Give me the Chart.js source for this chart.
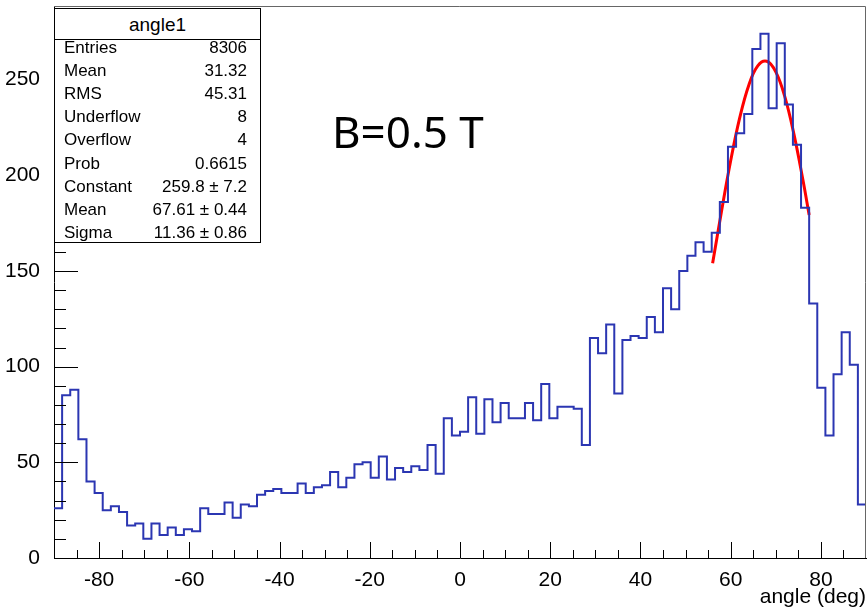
<!DOCTYPE html>
<html lang="en">
<head>
<meta charset="UTF-8">
<title>angle1</title>
<script src="https://cdn.jsdelivr.net/npm/chart.js"></script>
<style>
    body {
        margin: 0;
        background: #fff;
        font-family: "Liberation Sans", Arial, sans-serif;
    }
    #wrap {
        position: relative;
        width: 867px;
        height: 610px;
    }
    #chart {
        position: absolute;
        left: 0;
        top: 0;
    }
    #stats {
        position: absolute;
        left: 54px;
        top: 8px;
        width: 207px;
        height: 235px;
        box-sizing: border-box;
        border: 1px solid #000;
        background: #fff;
        color: #000;
        font-size: 17px;
    }
    #stats .title {
        height: 31px;
        line-height: 31px;
        font-size: 19px;
        text-align: center;
        border-bottom: 1px solid #000;
        box-sizing: border-box;
    }
    #stats .rows {
        position: absolute;
        left: 0;
        right: 0;
        top: 26.7px;
    }
    #stats .row {
        display: flex;
        justify-content: space-between;
        height: 23.2px;
        line-height: 23.2px;
        padding: 0 13px 0 9px;
    }
    #field {
        position: absolute;
        left: 332px;
        top: 109px;
        font-family: "Noto Sans", "Open Sans", sans-serif;
        font-size: 44px;
        line-height: 44px;
        color: #000;
        white-space: nowrap;
    }
</style>
</head>
<body>
<div id="wrap">
    <canvas id="chart" width="867" height="610"></canvas>
    <div id="stats">
        <div class="title">angle1</div>
        <div class="rows" id="statRows"></div>
    </div>
    <div id="field">B=0.5 T</div>
</div>
<script>
    // histogram angle1: 100 bins from -90 to 90 deg
    const xLow = -90;
    const xHigh = 90;
    const counts = [
        26, 85, 88, 62, 40, 34, 25, 27, 24, 17,
        18, 10, 18, 12, 16, 12, 15, 14, 26, 23,
        23, 29, 21, 28, 27, 33, 35, 36, 34, 34,
        39, 34, 37, 38, 45, 37, 42, 49, 50, 42,
        53, 41, 47, 45, 48, 46, 59, 44, 73, 64,
        66, 84, 65, 83, 71, 81, 73, 73, 81, 72,
        91, 73, 79, 79, 78, 59, 115, 107, 122, 86,
        114, 116, 115, 126, 118, 141, 130, 150, 158, 165,
        160, 170, 186, 215, 222, 232, 266, 274, 235, 269,
        237, 216, 183, 133, 89, 64, 96, 118, 101, 28
    ];

    // gaus fit curve
    const fitX = [56, 58, 60, 62, 64, 66, 68, 70, 72, 74, 76, 77.4];
    const fitY = [154, 181.6, 207.6, 230, 247, 257.2, 259.6, 254.1, 241.1, 221.8, 197.8, 179.3];

    // axis labels
    const xTickLabels = [-80, -60, -40, -20, 0, 20, 40, 60, 80];
    const yTickLabels = [0, 50, 100, 150, 200, 250];
    const yMax = 288.5;
    const xMinorStep = 5;
    const yMinorStep = 10;

    const statLines = [
        ['Entries', '8306'],
        ['Mean', '31.32'],
        ['RMS', '45.31'],
        ['Underflow', '8'],
        ['Overflow', '4'],
        ['Prob', '0.6615'],
        ['Constant', '259.8 \u00b1 7.2'],
        ['Mean', '67.61 \u00b1 0.44'],
        ['Sigma', '11.36 \u00b1 0.86']
    ];

    const rowsDiv = document.getElementById('statRows');
    statLines.forEach(([name, val]) => {
        const row = document.createElement('div');
        row.className = 'row';
        row.innerHTML = '<span>' + name + '</span><span>' + val + '</span>';
        rowsDiv.appendChild(row);
    });

    const binWidth = (xHigh - xLow) / counts.length;
    const histPoints = counts.map((c, i) => ({ x: xLow + i * binWidth, y: c }));
    histPoints.push({ x: xHigh, y: counts[counts.length - 1] });
    const fitPoints = fitX.map((x, i) => ({ x: x, y: fitY[i] }));

    // ROOT style inward ticks + frame
    const rootFrame = {
        id: 'rootFrame',
        afterDatasetsDraw(chart) {
            const { ctx, chartArea: a, scales: { x, y } } = chart;
            ctx.save();
            ctx.strokeStyle = '#000';
            ctx.lineWidth = 1;
            ctx.beginPath();
            for (let v = xLow + xMinorStep; v < xHigh; v += xMinorStep) {
                const px = Math.round(x.getPixelForValue(v)) + 0.5;
                const len = xTickLabels.includes(v) ? 16 : 8;
                ctx.moveTo(px, a.bottom);
                ctx.lineTo(px, a.bottom - len);
            }
            for (let v = yMinorStep; v < yMax; v += yMinorStep) {
                const py = Math.round(y.getPixelForValue(v)) + 0.5;
                const len = yTickLabels.includes(v) ? 24 : 12;
                ctx.moveTo(a.left, py);
                ctx.lineTo(a.left + len, py);
            }
            ctx.stroke();
            ctx.strokeStyle = '#666';
            ctx.beginPath();
            ctx.moveTo(a.left, Math.round(a.top) + 0.5);
            ctx.lineTo(Math.round(a.right) - 0.5, Math.round(a.top) + 0.5);
            ctx.lineTo(Math.round(a.right) - 0.5, a.bottom);
            ctx.stroke();
            ctx.restore();
        }
    };

    const tickFont = { family: '"Liberation Sans", Arial, sans-serif', size: 21 };

    new Chart(document.getElementById('chart'), {
        type: 'line',
        data: {
            datasets: [
                {
                    label: 'angle1',
                    data: histPoints,
                    stepped: true,
                    borderColor: '#2b36b2',
                    borderWidth: 2,
                    pointRadius: 0,
                    fill: false
                },
                {
                    label: 'gaus',
                    data: fitPoints,
                    borderColor: '#ff0000',
                    borderWidth: 3,
                    tension: 0.4,
                    pointRadius: 0,
                    fill: false
                }
            ]
        },
        options: {
            responsive: false,
            animation: false,
            layout: { padding: { top: 6, right: 1, left: 0, bottom: 0 } },
            plugins: {
                legend: { display: false },
                tooltip: { enabled: false }
            },
            scales: {
                x: {
                    type: 'linear',
                    min: xLow,
                    max: xHigh,
                    grid: { display: false },
                    border: { display: true, color: '#000', width: 1 },
                    afterBuildTicks(scale) {
                        scale.ticks = xTickLabels.map(v => ({ value: v }));
                    },
                    ticks: {
                        autoSkip: false,
                        maxRotation: 0,
                        padding: 2,
                        color: '#000',
                        font: tickFont
                    },
                    title: {
                        display: true,
                        text: 'angle (deg)',
                        align: 'end',
                        color: '#000',
                        font: tickFont,
                        padding: { top: 0, bottom: 0 }
                    },
                    afterFit(scale) {
                        scale.height = 52;
                        scale.paddingLeft = 0;
                        scale.paddingRight = 0;
                    }
                },
                y: {
                    min: 0,
                    max: yMax,
                    grid: { display: false },
                    border: { display: true, color: '#000', width: 1 },
                    afterBuildTicks(scale) {
                        scale.ticks = yTickLabels.map(v => ({ value: v }));
                    },
                    ticks: {
                        padding: 6,
                        color: '#000',
                        font: tickFont
                    },
                    afterFit(scale) {
                        scale.width = 54;
                        scale.paddingTop = 0;
                        scale.paddingBottom = 0;
                    }
                }
            }
        },
        plugins: [rootFrame]
    });
</script>
</body>
</html>
